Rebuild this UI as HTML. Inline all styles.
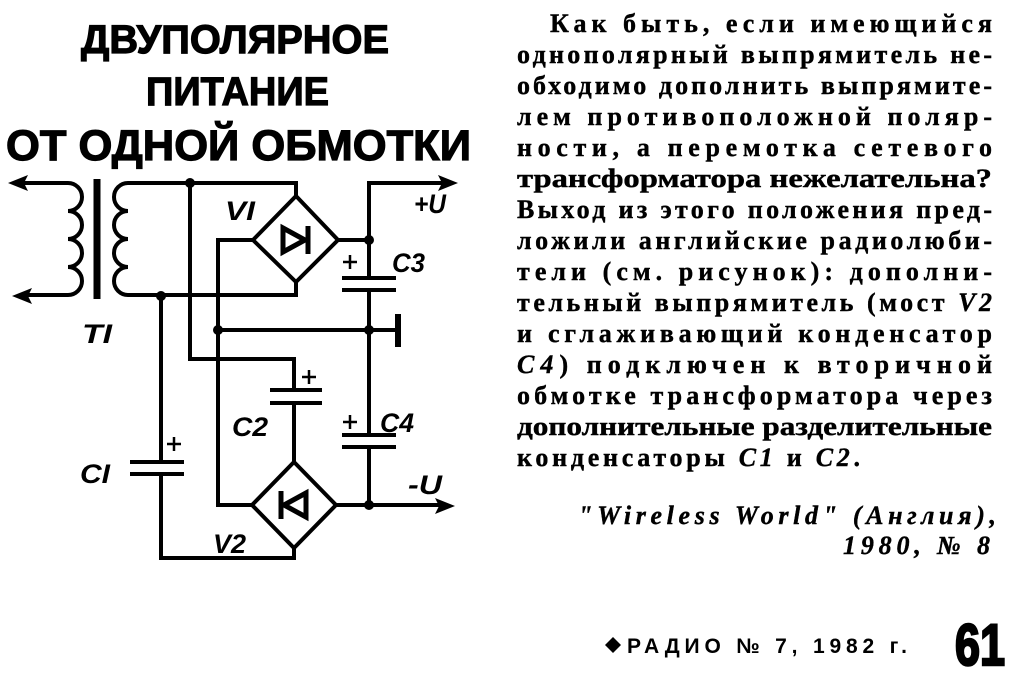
<!DOCTYPE html>
<html><head><meta charset="utf-8"><style>
html,body{margin:0;padding:0;background:#fff;}
svg{display:block;}
text{fill:#000;}
.b{font-family:"Liberation Sans","DejaVu Sans",sans-serif;font-weight:bold;}
.t{font-family:"Liberation Serif","DejaVu Serif",serif;font-size:26px;font-weight:bold;}
.l{font-family:"Liberation Sans",sans-serif;font-style:italic;font-weight:bold;font-size:27px;}
</style></head><body>
<svg width="1014" height="683" viewBox="0 0 1014 683" xmlns="http://www.w3.org/2000/svg">
<rect width="1014" height="683" fill="#fff"/>
<g stroke="#000" stroke-width="1.2">
<text class="b" x="81" y="53" font-size="40" textLength="308" lengthAdjust="spacingAndGlyphs">ДВУПОЛЯРНОЕ</text>
<text class="b" x="146" y="105" font-size="40" textLength="183" lengthAdjust="spacingAndGlyphs">ПИТАНИЕ</text>
<text class="b" x="6" y="160" font-size="43" textLength="465" lengthAdjust="spacingAndGlyphs">ОТ ОДНОЙ ОБМОТКИ</text>
</g>

<g fill="none" stroke="#000" stroke-width="4" stroke-linejoin="miter">
 <path d="M22,183 H68 a14,14 0 0 1 0,28 a14,14 0 0 1 0,28 a14,14 0 0 1 0,28 a14,14 0 0 1 0,28 H22"/>
 <line x1="97" y1="179" x2="97" y2="299" stroke-width="7"/>
 <path d="M190,183 H128 a14,14 0 0 0 0,28 a14,14 0 0 0 0,28 a14,14 0 0 0 0,28 a14,14 0 0 0 0,28 H296 V282"/>
 <path d="M190,183 H296 V196"/>
 <path d="M296,196 L338,240 L296,282 L253,240 Z"/>
 <path d="M283,228 L305,240 L283,252 Z" stroke-width="5"/>
 <line x1="308" y1="226" x2="308" y2="254" stroke-width="5"/>
 <path d="M253,240 H218 V505 H252"/>
 <path d="M218,330 H398"/>
 <line x1="398" y1="314" x2="398" y2="347" stroke-width="6"/>
 <path d="M190,183 V359 H294 V390"/>
 <line x1="270" y1="390" x2="322" y2="390"/>
 <line x1="270" y1="403" x2="322" y2="403"/>
 <path d="M294,403 V462"/>
 <path d="M294,462 L336,505 L294,548 L252,505 Z"/>
 <path d="M306,493 L284,505 L306,517 Z" stroke-width="5"/>
 <line x1="281" y1="491" x2="281" y2="519" stroke-width="5"/>
 <path d="M294,548 V558 H161 V473"/>
 <line x1="161" y1="296" x2="161" y2="462"/>
 <line x1="130" y1="462" x2="184" y2="462"/>
 <line x1="130" y1="474" x2="184" y2="474"/>
 <path d="M338,240 H369 M369,240 V183 H445"/>
 <path d="M369,240 V278"/>
 <line x1="342" y1="278" x2="396" y2="278"/>
 <line x1="342" y1="290" x2="396" y2="290"/>
 <path d="M369,290 V435"/>
 <line x1="342" y1="435" x2="396" y2="435"/>
 <line x1="342" y1="447" x2="396" y2="447"/>
 <path d="M369,447 V505 M336,505 H445"/>
</g>
<g fill="#000">
 <polygon points="8,183 28,175 24,183 28,191"/>
 <polygon points="12,296 32,288 28,296 32,304"/>
 <polygon points="458,183 438,175 442,183 438,191"/>
 <polygon points="455,506 435,498 439,506 435,514"/>
 <circle cx="190" cy="183" r="5"/>
 <circle cx="161" cy="296" r="5"/>
 <circle cx="218" cy="330" r="5"/>
 <circle cx="369" cy="240" r="5"/>
 <circle cx="369" cy="330" r="5"/>
 <circle cx="369" cy="505" r="5"/>
</g>
<g stroke="#000" stroke-width="2.5">
 <path d="M343,262 H357 M350,255 V269"/>
 <path d="M302,377 H316 M309,370 V384"/>
 <path d="M343,422 H357 M350,415 V429"/>
 <path d="M167,444 H181 M174,437 V451"/>
</g>
<text class="l" x="225" y="220" textLength="30" lengthAdjust="spacingAndGlyphs">VI</text>
<text class="l" x="414" y="213" textLength="32" lengthAdjust="spacingAndGlyphs">+U</text>
<text class="l" x="392" y="272" textLength="33" lengthAdjust="spacingAndGlyphs">C3</text>
<text class="l" x="82" y="343" textLength="30" lengthAdjust="spacingAndGlyphs">TI</text>
<text class="l" x="232" y="436" textLength="36" lengthAdjust="spacingAndGlyphs">C2</text>
<text class="l" x="380" y="432" textLength="34" lengthAdjust="spacingAndGlyphs">C4</text>
<text class="l" x="80" y="483" textLength="30" lengthAdjust="spacingAndGlyphs">CI</text>
<text class="l" x="408" y="494" textLength="34" lengthAdjust="spacingAndGlyphs">-U</text>
<text class="l" x="213" y="553" textLength="33" lengthAdjust="spacingAndGlyphs">V2</text>

<g class="t" stroke="#000" stroke-width="0.4">
<text x="550" y="32" textLength="442" lengthAdjust="spacing">Как быть, если имеющийся</text>
<text x="517" y="63" textLength="475" lengthAdjust="spacing">однополярный выпрямитель не-</text>
<text x="517" y="94" textLength="475" lengthAdjust="spacing">обходимо дополнить выпрямите-</text>
<text x="517" y="125" textLength="475" lengthAdjust="spacing">лем противоположной поляр-</text>
<text x="517" y="156" textLength="475" lengthAdjust="spacing">ности, а перемотка сетевого</text>
<text x="517" y="187" textLength="475" lengthAdjust="spacingAndGlyphs">трансформатора нежелательна?</text>
<text x="517" y="218" textLength="475" lengthAdjust="spacing">Выход из этого положения пред-</text>
<text x="517" y="249" textLength="475" lengthAdjust="spacing">ложили английские радиолюби-</text>
<text x="517" y="280" textLength="475" lengthAdjust="spacing">тели (см. рисунок): дополни-</text>
<text x="517" y="311" textLength="475" lengthAdjust="spacing">тельный выпрямитель (мост <tspan font-style="italic">V2</tspan></text>
<text x="517" y="342" textLength="475" lengthAdjust="spacing">и сглаживающий конденсатор</text>
<text x="517" y="373" textLength="475" lengthAdjust="spacing"><tspan font-style="italic">C4</tspan>) подключен к вторичной</text>
<text x="517" y="404" textLength="475" lengthAdjust="spacing">обмотке трансформатора через</text>
<text x="517" y="435" textLength="475" lengthAdjust="spacingAndGlyphs">дополнительные разделительные</text>
<text x="517" y="466" textLength="343" lengthAdjust="spacing">конденсаторы <tspan font-style="italic">C1</tspan> и <tspan font-style="italic">C2</tspan>.</text>
<text x="578" y="524" textLength="418" lengthAdjust="spacing" font-style="italic">"Wireless World" (Англия),</text>
<text x="843" y="554" textLength="147" lengthAdjust="spacing" font-style="italic">1980, № 8</text>
</g>

<polygon points="613,637 621,645 613,653 605,645" fill="#000"/>
<text class="b" x="627" y="653" font-size="21" textLength="280" lengthAdjust="spacing">РАДИО № 7, 1982 г.</text>
<text class="b" x="955" y="665" font-size="58" stroke="#000" stroke-width="2.5" textLength="50" lengthAdjust="spacingAndGlyphs">61</text>
</svg>
</body></html>
